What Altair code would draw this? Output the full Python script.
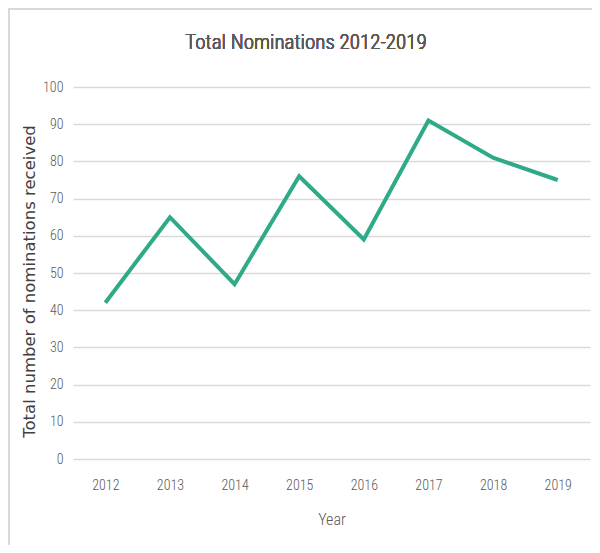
import altair as alt
import pandas as pd

years = ["2012", "2013", "2014", "2015", "2016", "2017", "2018", "2019"]
nominations = [42, 65, 47, 76, 59, 91, 81, 75]
chart_title = "Total Nominations 2012-2019"

df = pd.DataFrame({"Year": years, "Nominations": nominations})

narrow = "Liberation Sans Narrow, Roboto Condensed, Liberation Sans, sans-serif"

line = alt.Chart(df).mark_line(color="#2FAA88", strokeWidth=4, strokeCap="butt", strokeJoin="miter").encode(
    x=alt.X("Year:O", sort=years,
            scale=alt.Scale(type="point", padding=0.5),
            axis=alt.Axis(title="Year", labelAngle=0, grid=False, ticks=False, domain=False,
                          labelPadding=19, labelFont=narrow, labelFontSize=14, labelColor="#595959",
                          labelFontWeight=300,
                          titleFont=narrow, titleFontSize=16, titleColor="#595959",
                          titleFontWeight=300, titlePadding=19)),
    y=alt.Y("Nominations:Q",
            scale=alt.Scale(domain=[0, 100]),
            axis=alt.Axis(title="Total number of nominations received", values=list(range(0, 101, 10)),
                          ticks=False, domain=False, gridColor="#D9D9D9", gridWidth=1.5,
                          labelPadding=10, labelFont=narrow, labelFontSize=14, labelColor="#595959",
                          labelFontWeight=300,
                          titleFont="DejaVu Sans", titleFontSize=16.5, titleColor="#404040",
                          titleFontWeight="normal", titlePadding=5, titleY=194)),
)

border = alt.Chart(df).mark_rect(fill=None, stroke="#D9D9D9", strokeWidth=1.5, clip=False).encode(
    x=alt.value(-64), x2=alt.value(560), y=alt.value(-78), y2=alt.value(500)
)

title = alt.Chart(df).mark_text(font=narrow, fontSize=21, fontWeight=300, color="#595959",
                                baseline="middle", align="center", clip=False).encode(
    text=alt.value(chart_title), x=alt.value(233), y=alt.value(-44)
)

chart = alt.layer(border, line, title).properties(
    width=517, height=372,
    autosize=alt.AutoSizeParams(type="none"),
    padding={"left": 65, "top": 79, "right": 2, "bottom": 86},
).configure_view(stroke=None)

chart.save("out.html", embed_options={"renderer": "svg", "actions": False})
